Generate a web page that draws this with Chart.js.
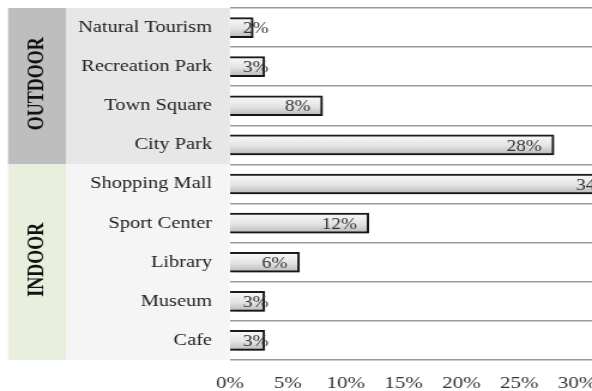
<!DOCTYPE html>
<html>
<head>
<meta charset="utf-8">
<script src="https://cdn.jsdelivr.net/npm/chart.js@4/dist/chart.umd.min.js"></script>
<style>
  html, body { margin: 0; padding: 0; background: #fff; overflow: hidden; width: 592px; height: 391px; }
  /* the chart is laid out narrow and widened to 592px */
  #wrap { position: absolute; left: 0; top: 0; width: 494px; height: 391px;
          transform: scaleX(1.19838); transform-origin: 0 0; }
  canvas { display: block; }
</style>
</head>
<body>
<div id="wrap"><canvas id="c" width="494" height="391"></canvas></div>
<script>
// Preferred places (share of respondents, %)
const places = ['Natural Tourism', 'Recreation Park', 'Town Square', 'City Park',
                'Shopping Mall', 'Sport Center', 'Library', 'Museum', 'Cafe'];
const shares = [2, 3, 8, 28, 34, 12, 6, 3, 3];

// Place groups, in order, with how many places each covers
const groupNames = ['OUTDOOR', 'INDOOR'];
const groupSizes = [4, 5];

// Value axis
const xTickValues = [0, 5, 10, 15, 20, 25, 30];
const xMax = 31.3;

const FONT = '"Liberation Serif", "Times New Roman", serif';

// Coloured group bands and label panels behind the category axis
const groupBands = {
  id: 'groupBands',
  beforeDraw(chart) {
    const { ctx, chartArea: a, scales: { y } } = chart;
    const bandL = 6.68, bandR = 55.07;
    const bandFill = ['#bebebe', '#e8efdc'];
    const panelFill = ['#e7e7e7', '#f5f5f5'];
    const step = y.getPixelForValue(1) - y.getPixelForValue(0);
    let start = 0;
    groupSizes.forEach((n, g) => {
      const top = y.getPixelForValue(start) - step / 2;
      const bottom = y.getPixelForValue(start + n - 1) + step / 2;
      ctx.save();
      ctx.fillStyle = bandFill[g];
      ctx.fillRect(bandL, top, bandR - bandL, bottom - top);
      ctx.fillStyle = panelFill[g];
      ctx.fillRect(bandR, top, a.left - bandR, bottom - top);
      ctx.translate((bandL + bandR) / 2 + 0.5, (top + bottom) / 2 - 2.5);
      ctx.rotate(-Math.PI / 2);
      ctx.font = 'bold 18px ' + FONT;
      ctx.fillStyle = '#111';
      ctx.textAlign = 'center';
      ctx.textBaseline = 'middle';
      ctx.fillText(groupNames[g], 0, 0);
      ctx.restore();
      start += n;
    });
  }
};

// Soft drop shadow under the bars, then the value labels inside the bar ends
const barDecor = {
  id: 'barDecor',
  beforeDatasetsDraw(chart) {
    const c = chart.ctx;
    c.save();
    c.shadowColor = 'rgba(0,0,0,0.28)';
    c.shadowBlur = 4;
    c.shadowOffsetX = 2;
    c.shadowOffsetY = 2;
  },
  afterDatasetsDraw(chart) {
    const c = chart.ctx;
    c.restore();
    const meta = chart.getDatasetMeta(0);
    const minLeft = chart.chartArea.left + 10.8;
    c.save();
    c.font = '16px ' + FONT;
    c.fillStyle = '#333';
    c.textAlign = 'left';
    c.textBaseline = 'middle';
    meta.data.forEach((bar, i) => {
      const txt = shares[i] + '%';
      const w = c.measureText(txt).width;
      let left = bar.x - 10 - w;
      if (left < minLeft) left = minLeft;
      c.fillText(txt, left, bar.y + 1.5);
    });
    c.restore();
  }
};

new Chart(document.getElementById('c'), {
  type: 'bar',
  data: {
    labels: places,
    datasets: [{
      data: shares,
      backgroundColor(ctx) {
        const chart = ctx.chart;
        if (!chart.chartArea || ctx.type !== 'data') return '#dddddd';
        const cy = chart.scales.y.getPixelForValue(ctx.dataIndex);
        const g = chart.ctx.createLinearGradient(0, cy - 10, 0, cy + 10);
        g.addColorStop(0, '#fbfbfb');
        g.addColorStop(0.55, '#e3e3e3');
        g.addColorStop(1, '#b8b8b8');
        return g;
      },
      borderColor: '#1b1b1b',
      borderWidth: 2,
      borderSkipped: 'start',
      barThickness: 20
    }]
  },
  options: {
    indexAxis: 'y',
    responsive: false,
    animation: false,
    devicePixelRatio: 1,
    layout: { padding: { top: 8, left: 0, right: 0, bottom: 0 } },
    plugins: { legend: { display: false }, tooltip: { enabled: false } },
    scales: {
      x: {
        min: 0,
        max: xMax,
        grid: { display: false },
        border: { display: false },
        ticks: {
          font: { family: FONT, size: 17.5 },
          color: '#333',
          padding: 5,
          maxRotation: 0,
          autoSkip: false,
          callback: v => v + '%'
        },
        afterBuildTicks(scale) { scale.ticks = xTickValues.map(v => ({ value: v })); },
        afterFit(scale) { scale.height = 31; scale.paddingLeft = 0; scale.paddingRight = 0; }
      },
      y: {
        grid: { color: '#999999', lineWidth: 1.6, drawTicks: false, offset: true },
        border: { display: false },
        ticks: {
          font: { family: FONT, size: 17 },
          color: '#222',
          padding: 15
        },
        afterFit(scale) { scale.width = 191.9; scale.paddingTop = 0; scale.paddingBottom = 0; }
      }
    }
  },
  plugins: [groupBands, barDecor]
});
</script>
</body>
</html>
